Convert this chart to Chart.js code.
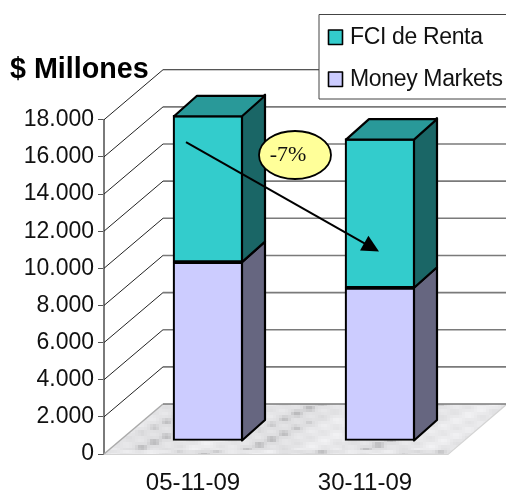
<!DOCTYPE html>
<html>
<head>
<meta charset="utf-8">
<title>Millones</title>
<script src="https://cdn.jsdelivr.net/npm/chart.js@4/dist/chart.umd.min.js"></script>
<style>
    html, body { margin: 0; padding: 0; background: #fff; }
    canvas { display: block; }
</style>
</head>
<body>
<div style="width:506px;height:491px"><canvas id="chart"></canvas></div>
<script>
const categories = ["05-11-09", "30-11-09"];
const moneyMarkets = [9630, 8250];
const fciRenta = [7910, 8030];
const tickValues = [0, 2000, 4000, 6000, 8000, 10000, 12000, 14000, 16000, 18000];
const chartTitle = "$ Millones";
const changeLabel = "-7%";

const FONT = "'Liberation Sans', Arial, sans-serif";

// fake 3D: how far the back wall and the bars sit from the front plane
const WALL_DX = 59, WALL_DY = -50;
const BAR_DX = 18, BAR_DY = -13;
const SIDE_DX = 23, SIDE_DY = -20.5;

// soft grey marble for the floor, built once
function marblePattern(ctx) {
    const c = document.createElement("canvas");
    c.width = 342; c.height = 50;
    const g = c.getContext("2d");
    const cell = 3;
    for (let y = 0; y < c.height; y += cell) {
        for (let x = 0; x < c.width; x += cell) {
            // streaks run along the floor diagonal
            const d = x + y * 1.2;
            const n = Math.sin(d * 0.055) + 0.6 * Math.sin(d * 0.17 + y * 0.2) + 0.4 * Math.sin(x * 0.31 - y * 0.43);
            const v = Math.round(228 + n * 7 - (n < -1 ? 30 * (-1 - n) : 0));
            g.fillStyle = "rgb(" + v + "," + v + "," + (v + 2) + ")";
            g.fillRect(x, y, cell, cell);
        }
    }
    return ctx.createPattern(c, "repeat");
}

function poly(ctx, pts, fill, stroke, width) {
    ctx.beginPath();
    pts.forEach((p, i) => i ? ctx.lineTo(p[0], p[1]) : ctx.moveTo(p[0], p[1]));
    ctx.closePath();
    if (fill) { ctx.fillStyle = fill; ctx.fill(); }
    if (stroke) { ctx.strokeStyle = stroke; ctx.lineWidth = width; ctx.lineJoin = "round"; ctx.stroke(); }
}

const walls = {
    id: "walls",
    beforeDatasetsDraw(chart) {
        const { ctx, chartArea: a, scales: { y } } = chart;
        ctx.save();
        poly(ctx, [[a.left, a.bottom], [a.right, a.bottom], [a.right + WALL_DX, a.bottom + WALL_DY], [a.left + WALL_DX, a.bottom + WALL_DY]], marblePattern(ctx));
        ctx.strokeStyle = "#d4d4d4";
        ctx.lineWidth = 1.2;
        ctx.beginPath();
        ctx.moveTo(a.left, a.bottom + 0.5);
        ctx.lineTo(a.right, a.bottom + 0.5);
        ctx.lineTo(a.right + WALL_DX, a.bottom + WALL_DY);
        ctx.stroke();
        ctx.strokeStyle = "#aaa";
        ctx.lineWidth = 1.5;
        ctx.beginPath();
        ctx.moveTo(a.left, a.bottom);
        ctx.lineTo(a.left + WALL_DX, a.bottom + WALL_DY);
        ctx.stroke();
        tickValues.forEach(v => {
            const py = y.getPixelForValue(v);
            const isTop = v === tickValues[tickValues.length - 1];
            ctx.strokeStyle = "#222";
            ctx.lineWidth = 1;
            if (v > 0) {
                ctx.beginPath();
                ctx.moveTo(a.left, py);
                ctx.lineTo(a.left + WALL_DX, py + WALL_DY);
                ctx.stroke();
            }
            ctx.strokeStyle = isTop ? "#222" : "#7a7a7a";
            ctx.lineWidth = isTop ? 1 : 1.6;
            ctx.beginPath();
            ctx.moveTo(a.left + WALL_DX, py + WALL_DY);
            ctx.lineTo(a.right + WALL_DX, py + WALL_DY);
            ctx.stroke();
        });
        ctx.restore();
    },
    beforeDatasetDraw(chart) {
        chart.ctx.save();
        chart.ctx.translate(BAR_DX, BAR_DY);
    },
    afterDatasetDraw(chart) {
        chart.ctx.restore();
    },
    afterDatasetsDraw(chart) {
        const { ctx, scales: { x, y } } = chart;
        ctx.save();
        // side and top faces of each stack segment
        chart.data.datasets.forEach((ds, i) => {
            chart.getDatasetMeta(i).data.forEach(bar => {
                const r = bar.x + bar.width / 2 + BAR_DX - 1;
                const t = bar.y + BAR_DY + 1;
                const b = bar.base + BAR_DY - 1;
                poly(ctx, [[r, b + 1], [r, t - 1], [r + SIDE_DX, t - 1 + SIDE_DY], [r + SIDE_DX, b + 1 + SIDE_DY]], ds.sideColor, "#000", 2.2);
                if (i === chart.data.datasets.length - 1) {
                    const l = bar.x - bar.width / 2 + BAR_DX + 1;
                    poly(ctx, [[l, t], [r, t], [r + SIDE_DX, t + SIDE_DY], [l + SIDE_DX, t + SIDE_DY]], ds.topColor, "#000", 2.2);
                }
            });
        });

        // arrow between the two stacks, hung on the same scales
        const x0 = x.getPixelForValue(0) + BAR_DX - 22, y0 = y.getPixelForValue(16800);
        const x1 = x.getPixelForValue(1) + BAR_DX - 1, y1 = y.getPixelForValue(10900);
        const ang = Math.atan2(y1 - y0, x1 - x0);
        const cos = Math.cos(ang), sin = Math.sin(ang);
        ctx.strokeStyle = "#000";
        ctx.lineWidth = 2;
        ctx.beginPath();
        ctx.moveTo(x0, y0);
        ctx.lineTo(x1 - 8 * cos, y1 - 8 * sin);
        ctx.stroke();
        ctx.fillStyle = "#000";
        ctx.beginPath();
        ctx.moveTo(x1, y1);
        ctx.lineTo(x1 - 17 * cos + 8.5 * sin, y1 - 17 * sin - 8.5 * cos);
        ctx.lineTo(x1 - 17 * cos - 8.5 * sin, y1 - 17 * sin + 8.5 * cos);
        ctx.closePath();
        ctx.fill();

        // -7% bubble
        ctx.fillStyle = "#ffff99";
        ctx.strokeStyle = "#000";
        ctx.lineWidth = 1.8;
        ctx.beginPath();
        ctx.ellipse(295, 155, 36, 24, 0, 0, Math.PI * 2);
        ctx.fill();
        ctx.stroke();
        ctx.fillStyle = "#111";
        ctx.font = "22px 'Liberation Serif', serif";
        ctx.textAlign = "center";
        ctx.textBaseline = "middle";
        ctx.fillText(changeLabel, 288, 155);

        // legend box, top series first
        ctx.fillStyle = "#fff";
        ctx.strokeStyle = "#444";
        ctx.lineWidth = 1;
        ctx.fillRect(319, 14.5, 190, 84.5);
        ctx.strokeRect(319, 14.5, 190, 84.5);
        ctx.font = "23px " + FONT;
        ctx.letterSpacing = "-0.35px";
        ctx.textAlign = "left";
        ctx.textBaseline = "alphabetic";
        [...chart.data.datasets].reverse().forEach((ds, i) => {
            const top = 30 + i * 42;
            ctx.fillStyle = ds.backgroundColor;
            ctx.strokeStyle = "#000";
            ctx.lineWidth = 1.6;
            ctx.fillRect(328.5, top, 14, 14.5);
            ctx.strokeRect(328.5, top, 14, 14.5);
            ctx.fillStyle = "#111";
            ctx.fillText(ds.label, 350, top + 14);
        });
        ctx.restore();
    }
};

new Chart(document.getElementById("chart"), {
    type: "bar",
    data: {
        labels: categories,
        datasets: [
            { label: "Money Markets", data: moneyMarkets, backgroundColor: "#ccccff", sideColor: "#666680", topColor: "#666680", borderColor: "#000", borderWidth: 2.2, borderSkipped: false, barThickness: 70, clip: false },
            { label: "FCI de Renta", data: fciRenta, backgroundColor: "#33cccc", sideColor: "#1a6666", topColor: "#299999", borderColor: "#000", borderWidth: 2.2, borderSkipped: false, barThickness: 70, clip: false }
        ]
    },
    options: {
        responsive: true,
        maintainAspectRatio: false,
        animation: false,
        layout: { padding: { left: 10, right: 58, top: 0, bottom: 0 } },
        plugins: {
            legend: { display: false },
            tooltip: { enabled: false },
            title: {
                display: true,
                text: chartTitle,
                align: "start",
                color: "#000",
                font: { family: FONT, size: 28.7, weight: "bold", lineHeight: 1.2 },
                padding: { top: 53, bottom: 32.3 }
            }
        },
        scales: {
            x: {
                stacked: true,
                grid: { display: false, drawTicks: false },
                border: { display: false },
                ticks: { color: "#111", font: { family: FONT, size: 24 }, padding: 15, maxRotation: 0, labelOffset: 3 },
                afterFit(scale) { scale.height = 37; }
            },
            y: {
                stacked: true,
                min: 0,
                max: 18000,
                afterBuildTicks(scale) { scale.ticks = tickValues.map(v => ({ value: v })); },
                grid: { drawOnChartArea: false, color: "#666", tickColor: "#555", tickLength: 6 },
                border: { color: "#7a7a7a", width: 2 },
                ticks: {
                    color: "#111",
                    font: { family: FONT, size: 23 },
                    padding: 4,
                    callback: v => v.toLocaleString("de-DE")
                },
                afterFit(scale) { scale.width = 94; }
            }
        }
    },
    plugins: [walls]
});
</script>
</body>
</html>
